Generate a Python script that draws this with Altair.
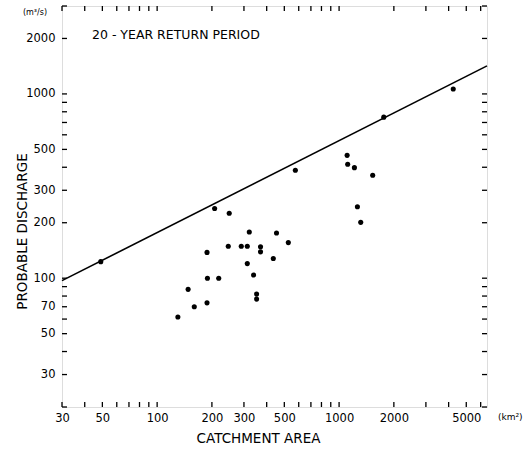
import altair as alt
import pandas as pd

# observed points (catchment area km2, 20-year discharge m3/s)
area = [1107, 1115, 1214, 1530, 575, 207, 249, 1261, 1315, 321, 453, 526,
        246, 290, 313, 370, 370, 188, 435, 313, 339, 189, 218, 148, 352,
        352, 188, 160, 130, 49, 1760, 4240]
discharge = [464, 415, 398, 362, 385, 239, 225, 244, 201, 178, 176, 156,
             149, 149, 149, 148, 139, 138, 128, 120, 104, 100, 100, 87, 82,
             77, 73.5, 70, 61.6, 123, 748, 1064]

# envelope line
line_area = [30, 6500]
line_q = [97, 1420]

x_labels = [30, 50, 100, 200, 300, 500, 1000, 2000, 5000]
y_labels = [30, 50, 70, 100, 200, 300, 500, 1000, 2000]
x_minor = [30, 40, 50, 60, 70, 80, 90, 100, 200, 300, 400, 500, 600, 700,
           800, 900, 1000, 2000, 3000, 4000, 5000, 6000]
y_minor = [20, 30, 40, 50, 60, 70, 80, 90, 100, 200, 300, 400, 500, 600,
           700, 800, 900, 1000, 2000, 3000]

W, H = 425, 401
FONT = "DejaVu Sans"

pts = pd.DataFrame({"A": area, "Q": discharge})
ln = pd.DataFrame({"A": line_area, "Q": line_q})
xt = pd.DataFrame({"A": x_minor})
yt = pd.DataFrame({"Q": y_minor})

xs = alt.Scale(type="log", domain=[30, 6500], nice=False)
ys = alt.Scale(type="log", domain=[20, 3000], nice=False)

xaxis = alt.Axis(values=x_labels, format="d", grid=False, ticks=False, domain=False,
                 labelPadding=5, labelFontSize=11.5, labelFont=FONT,
                 labelColor="black", labelFlush=False,
                 title="CATCHMENT  AREA", titleFont=FONT, titleFontSize=13.5,
                 titleFontWeight="normal", titleColor="black",
                 titleX=196, titleY=31, titleBaseline="middle", titleAnchor="start",
                 titleAlign="center")
yaxis = alt.Axis(values=y_labels, format="d", grid=False, ticks=False, domain=False,
                 labelPadding=7, labelFontSize=11.5, labelFont=FONT,
                 labelColor="black", labelFlush=False,
                 title="PROBABLE DISCHARGE", titleFont=FONT, titleFontSize=13.5,
                 titleFontWeight="normal", titleColor="black",
                 titleX=-40, titleY=225, titleBaseline="middle", titleAnchor="start",
                 titleAlign="center")

X = alt.X("A:Q", scale=xs, axis=xaxis)
Y = alt.Y("Q:Q", scale=ys, axis=yaxis)

line = alt.Chart(ln).mark_line(color="black", strokeWidth=1.6).encode(x=X, y=Y)
points = alt.Chart(pts).mark_circle(color="black", opacity=1, size=26).encode(x=X, y=Y)

tb = alt.Chart(xt).mark_rule(color="black", strokeWidth=1.3).encode(
    x=X, y=alt.value(H), y2=alt.value(H - 5))
tt = alt.Chart(xt).mark_rule(color="black", strokeWidth=1.3).encode(
    x=X, y=alt.value(0), y2=alt.value(5))
tl = alt.Chart(yt).mark_rule(color="black", strokeWidth=1.3).encode(
    y=Y, x=alt.value(0), x2=alt.value(5))
tr = alt.Chart(yt).mark_rule(color="black", strokeWidth=1.3).encode(
    y=Y, x=alt.value(W), x2=alt.value(W - 5))

title_txt = alt.Chart(pd.DataFrame({"t": ["20 - YEAR RETURN PERIOD"]})).mark_text(
    align="left", baseline="middle", font=FONT, fontSize=12.5, color="black"
).encode(text="t:N", x=alt.value(30), y=alt.value(29))

unit_y = alt.Chart(pd.DataFrame({"t": ["(m³/s)"]})).mark_text(
    align="center", baseline="middle", font=FONT, fontSize=8, color="black"
).encode(text="t:N", x=alt.value(-27), y=alt.value(7))

unit_x = alt.Chart(pd.DataFrame({"t": ["(km²)"]})).mark_text(
    align="left", baseline="middle", font=FONT, fontSize=9, color="black"
).encode(text="t:N", x=alt.value(436), y=alt.value(411))

chart = alt.layer(line, points, tb, tt, tl, tr, title_txt, unit_y, unit_x).properties(
    width=W, height=H,
    autosize=alt.AutoSizeParams(type="none"),
    padding={"left": 62, "top": 6, "right": 42, "bottom": 46},
).configure_view(stroke="black", strokeWidth=1.6).configure(background="white")

chart.save("out.html", embed_options={"renderer": "svg", "actions": False})
